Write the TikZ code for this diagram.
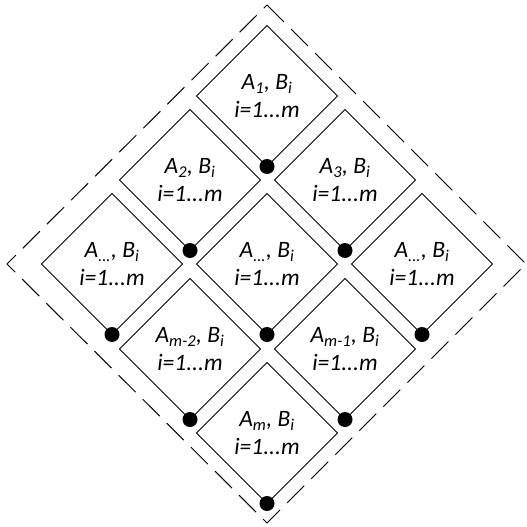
\documentclass[tikz,border=0pt]{standalone}
\usepackage{fontspec}
\setmainfont{Carlito}
\usetikzlibrary{shapes.geometric}
\begin{document}
\begin{tikzpicture}[x=1pt,y=-1pt,
  cell/.style={diamond, draw, line width=1pt, minimum width=141pt, minimum height=141pt,
    inner sep=0pt, outer sep=0pt, align=center, font=\fontsize{23.5}{28}\selectfont\itshape},
  blob/.style={circle, fill=black, inner sep=0pt, minimum size=15pt},
  frame/.style={draw, line width=1pt, dash pattern=on 24pt off 10pt}]
\useasboundingbox (0,0) rectangle (527,527);
\node[cell] (a1) at (267,96) {A\textsubscript{1}, B\textsubscript{i}\\i=1...m};
\node[cell] (a2) at (190,180) {A\textsubscript{2}, B\textsubscript{i}\\i=1...m};
\node[cell] (a3) at (345,180) {A\textsubscript{3}, B\textsubscript{i}\\i=1...m};
\node[cell] (l) at (112,264) {A\textsubscript{...}, B\textsubscript{i}\\i=1...m};
\node[cell] (c) at (267,264) {A\textsubscript{...}, B\textsubscript{i}\\i=1...m};
\node[cell] (r) at (422,264) {A\textsubscript{...}, B\textsubscript{i}\\i=1...m};
\node[cell] (am2) at (190,349) {A\textsubscript{m-2}, B\textsubscript{i}\\i=1...m};
\node[cell] (am1) at (345,349) {A\textsubscript{m-1}, B\textsubscript{i}\\i=1...m};
\node[cell] (am) at (267,433) {A\textsubscript{m}, B\textsubscript{i}\\i=1...m};
\foreach \n in {a1,a2,a3,l,c,r,am2,am1,am}
  \node[blob] at (\n.south) {};
\coordinate (ot) at (267,5);
\coordinate (or) at (526,264);
\coordinate (ob) at (267,523);
\coordinate (ol) at (7,264);
\draw[frame] (ot) -- (or) -- (ob) -- (ol) -- cycle;
\end{tikzpicture}
\end{document}
